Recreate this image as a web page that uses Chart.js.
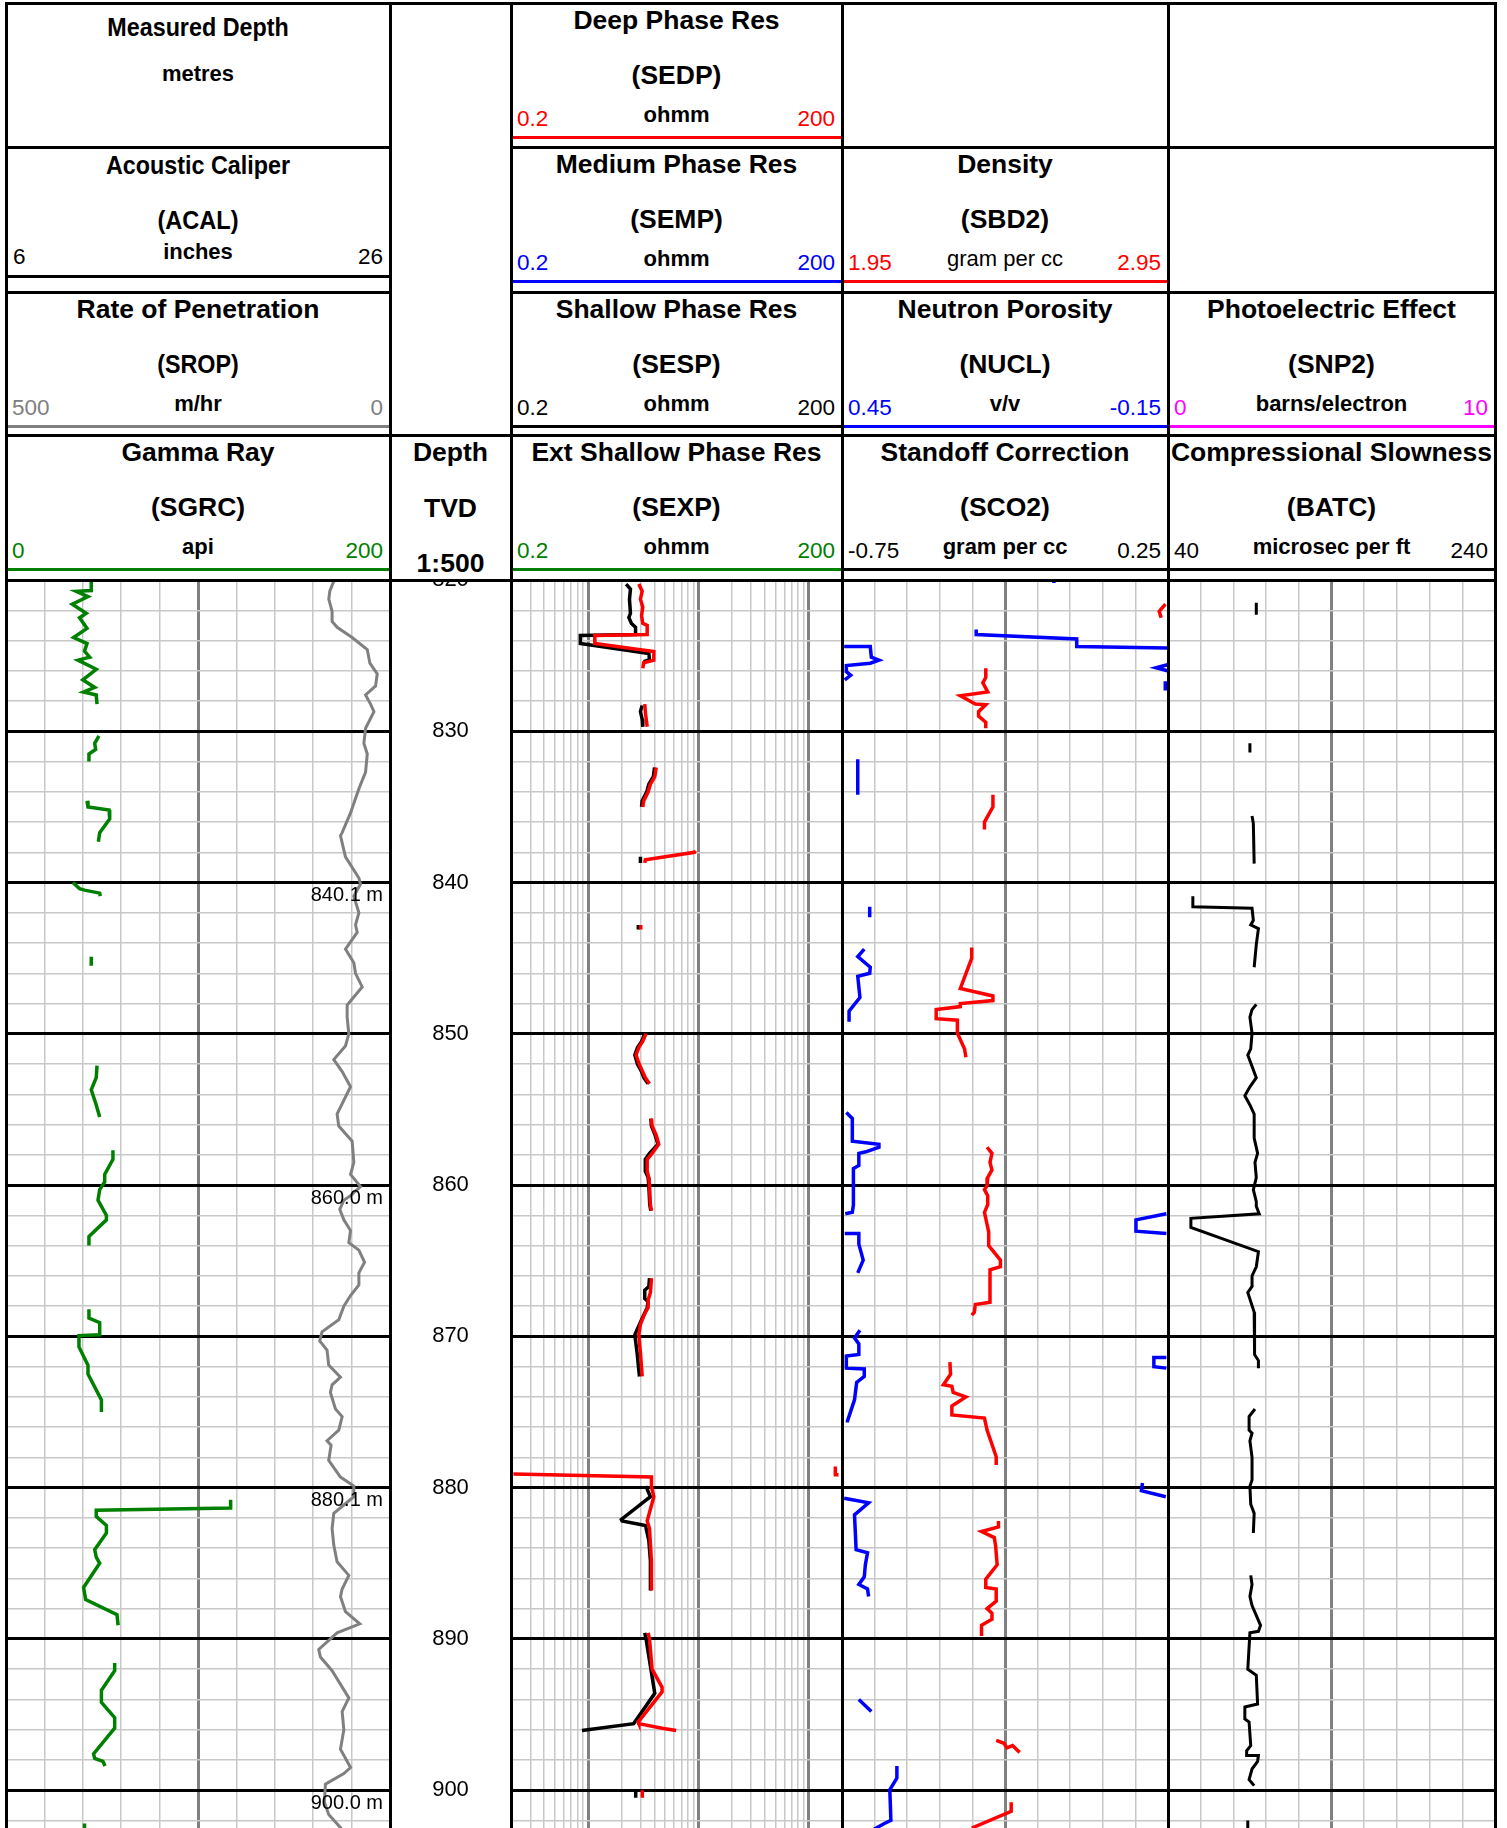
<!DOCTYPE html>
<html><head><meta charset="utf-8">
<script src="https://cdn.jsdelivr.net/npm/chart.js"></script>
<style>
html,body{margin:0;padding:0;background:#fff;}
#page{position:relative;width:1507px;height:1828px;overflow:hidden;font-family:"Liberation Sans",Arial,sans-serif;color:#000;background:#fff;}
.t{position:absolute;white-space:nowrap;line-height:1;font-weight:bold;}
.ln{position:absolute;}
canvas{position:absolute;}
</style></head><body><div id="page"></div>
<script>
// ---------------- DATA ----------------
const DEPTH_MIN = 820, DEPTH_MAX = 902.5;
const DEPTH_LABELS = [820, 830, 840, 850, 860, 870, 880, 890, 900];
const MD_LABEL_DEPTHS = [840, 860, 880, 900];
const MD_LABEL_TEXT = ['840.1 m', '860.0 m', '880.1 m', '900.0 m'];

// [depth, value]; null = gap
const SGRC = [[820.1,44.4],[820.7,44.4],[820.75,36.6],[821.1,42.7],[821.6,34.5],[822.2,41.8],[822.5,38.3],[823.2,42.2],[823.8,35.2],[824.2,42.2],[824.7,40.9],[825.1,43.6],[825.3,37.5],[825.9,47.0],[826.6,40.0],[827.1,46.2],[827.4,40.4],[827.6,47.0],[828.2,47.4],null,
 [830.3,48.4],[830.8,46.2],[831.2,46.7],[831.5,43.2],[832.0,43.2],null,
 [834.6,42.2],[835.0,42.7],[835.2,53.7],[835.8,54.0],[836.7,48.8],[837.3,48.1],null,
 [840.0,34.8],[840.4,38.3],[840.5,40.9],[840.7,48.8],[840.9,49.1],null,
 [844.9,44.4],[845.5,44.4],null,
 [852.1,47.4],[852.9,47.0],[853.7,44.4],[854.7,47.0],[855.5,48.8],null,
 [857.7,55.7],[858.3,55.7],[859.3,51.4],[859.8,51.4],[860.3,48.8],[861.0,47.9],[861.4,49.7],[862.0,52.3],[862.3,52.3],[863.4,43.2],[864.0,43.2],null,
 [868.2,43.2],[868.8,43.2],[869.1,48.8],[869.9,48.8],[869.95,38.0],[870.7,38.0],[871.9,42.7],[872.5,42.7],[874.2,49.7],[875.0,49.7],null,
 [880.8,117],[881.35,117],[881.5,47.0],[881.9,47.0],[882.5,52.3],[883.0,52.3],[884.1,46.2],[884.6,47.0],[885.0,48.8],[886.6,40.4],[887.4,41.5],[888.4,57.8],[889.1,58.4],null,
 [891.6,56.6],[892.1,56.6],[893.4,49.7],[894.2,49.7],[895.2,56.6],[895.9,56.6],[897.6,45.6],[897.9,46.2],[898.1,50.5],[898.4,51.6],null,
 [902.2,40.9],[902.6,40.9]];

const SROP = [[820.08,73.2],[820.74,78.4],[821.27,79.7],[822.07,75.4],[822.74,75.4],[823.13,68.8],[823.8,49.3],[824.6,29.6],[825.5,26.2],[826.2,16.6],[827.0,18.8],[827.6,31.8],[828.2,25.3],[828.7,20.9],[829.8,31.8],[830.8,34.0],[831.5,29.6],[832.7,31.8],[833.8,40.5],[835.4,51.4],[836.7,62.3],[836.9,64.5],[838.3,58.0],[839.7,40.5],[840.1,38.4],[840.9,47.1],[842.0,40.5],[842.8,44.9],[843.3,42.7],[844.4,58.0],[845.3,47.1],[846.0,44.9],[846.9,36.2],[848.1,55.8],[848.9,55.8],[850.0,53.6],[850.8,58.0],[851.7,73.2],[852.5,62.3],[853.5,51.4],[855.3,68.9],[856.1,66.7],[857.1,49.3],[858.5,47.1],[859.3,51.4],[860.1,38.4],[860.7,51.4],[861.0,60.1],[861.6,65.4],[862.3,60.1],[863.0,51.4],[863.8,53.6],[864.3,40.5],[865.1,33.1],[865.8,40.5],[866.6,40.5],[867.3,51.4],[868.0,60.1],[868.9,66.7],[869.7,88.5],[870.3,91.5],[870.9,82.0],[871.9,79.8],[872.7,64.5],[873.2,75.4],[873.7,77.6],[874.8,71.0],[875.3,62.3],[876.2,66.7],[876.9,82.0],[877.2,76.7],[878.2,79.8],[879.3,64.5],[879.9,47.1],[880.6,47.1],[881.7,73.2],[882.7,75.4],[883.8,73.2],[884.9,68.9],[885.8,53.6],[886.7,62.3],[887.2,64.5],[888.2,58.0],[889.0,39.3],[889.6,68.9],[890.7,92.8],[891.2,90.6],[892.1,75.4],[893.9,53.6],[894.8,62.3],[896.0,60.1],[897.3,64.5],[898.5,51.4],[898.9,60.1],[899.6,84.1],[900.8,85.4],[901.6,79.8],[902.6,62.3]];

const ACAL = [];

const SEDP = [[820.27,2.88],[820.74,3.09],[821.27,2.98],[821.8,3.13],[822.34,3.05],[822.87,3.13],[823.0,3.43],[823.6,3.43],[823.67,1.15],[824.2,1.15],[824.73,3.94],[825.3,3.94],[825.47,3.19],[825.84,3.13],null,
 [828.2,3.26],[828.8,3.31],[829.7,3.43],null,
 [832.4,4.14],[833.0,4.02],[833.5,3.67],[834.0,3.5],[834.6,3.19],[835.0,3.13],null,
 [838.7,3.26],[838.5,3.3],[838.0,9.2],[837.9,9.4],null,
 [842.8,3.0],[843.1,3.0],null,
 [850.0,3.35],[850.5,3.12],[850.9,2.88],[851.4,2.72],[852.0,2.9],[852.5,3.12],[852.9,3.3],[853.3,3.6],null,
 [855.6,3.75],[856.1,3.8],[856.7,4.14],[857.3,4.37],[857.9,3.8],[858.3,3.43],[859.1,3.43],[859.5,3.55],[860.05,3.6],[861.3,3.67],[861.7,3.75],null,
 [866.15,3.75],[867.1,3.67],[867.6,3.5],[868.1,3.5],[868.5,3.26],[869.2,2.98],[869.9,2.88],[871.1,2.98],[872.65,3.09],null,
 [878.6,174],[879.15,174],[879.15,186],null,
 [879.1,0.21],[879.3,3.75],[879.95,3.75],[880.6,3.94],[882.2,3.43],[882.7,3.6],[884.85,3.75],[886.8,3.75],null,
 [889.6,3.5],[890.0,3.6],[892.0,3.8],[893.2,4.68],[893.5,4.68],[895.5,2.84],[895.6,2.88],[895.9,4.68],[896.05,6.28],null,
 [900.0,3.1],[900.5,3.1]];

const SEMP = [];

const SESP = [[820.27,2.21],[820.6,2.42],[821.27,2.37],[822.2,2.42],[822.47,2.34],[822.87,2.47],[823.13,2.69],[823.6,2.69],[823.67,0.85],[824.2,0.85],[824.86,3.55],[825.26,3.6],[825.4,3.19],null,
 [828.3,3.09],[828.7,2.98],[829.2,3.09],[829.7,3.13],null,
 [832.4,4.0],[833.0,3.9],[833.5,3.55],[834.0,3.4],[834.6,3.09],[835.0,3.05],null,
 [838.3,2.98],[838.7,2.98],null,
 [842.8,2.85],[843.1,2.85],null,
 [850.0,3.26],[850.5,3.05],[850.9,2.8],[851.4,2.65],[852.0,2.8],[852.5,3.05],[852.9,3.2],[853.3,3.5],null,
 [855.6,3.7],[856.1,3.75],[856.7,4.05],[857.3,4.3],[857.9,3.6],[858.3,3.3],[859.1,3.3],[859.5,3.5],[860.05,3.55],[861.3,3.62],[861.7,3.7],null,
 [866.15,3.6],[866.7,3.55],[866.95,3.26],[867.5,3.26],[867.7,3.5],[868.1,3.43],[868.9,3.05],[869.9,2.65],[871.1,2.78],[872.65,2.92],null,
 [879.9,3.5],[880.1,3.43],[880.6,3.67],[882.1,2.0],[882.2,2.03],[882.5,3.31],[883.5,3.55],[884.85,3.67],[886.8,3.67],null,
 [889.6,3.26],[890.0,3.35],[893.6,4.02],[895.6,2.59],[896.05,0.88],null,
 [900.0,2.7],[900.5,2.7]];

const SEXP = [];

const SBD2 = [[821.6,2.942],[822.07,2.923],[822.5,2.929],null,
 [825.84,2.391],[826.45,2.391],[826.8,2.382],[827.4,2.397],[827.65,2.313],[828.2,2.359],[828.25,2.391],[828.7,2.369],[829.0,2.369],[829.4,2.391],[829.8,2.391],null,
 [834.2,2.413],[835.0,2.413],[836.0,2.387],[836.5,2.387],null,
 [844.3,2.348],[845.0,2.348],[847.0,2.313],[847.5,2.413],[847.8,2.413],[848.0,2.313],[848.2,2.313],[848.4,2.239],[849.0,2.239],[849.1,2.304],[849.96,2.304],[851.0,2.326],[851.55,2.33],null,
 [857.5,2.395],[857.9,2.41],[858.5,2.404],[859.0,2.41],[859.5,2.397],[860.05,2.395],[860.3,2.387],[860.7,2.397],[861.3,2.397],[861.8,2.387],[863.1,2.40],[864.0,2.40],[864.96,2.436],[865.4,2.436],[865.6,2.404],[867.75,2.404],[867.9,2.359],[868.4,2.356],[868.6,2.348],null,
 [871.7,2.281],[872.5,2.283],[873.2,2.261],[873.3,2.287],[873.7,2.291],[874.0,2.33],[874.6,2.287],[875.2,2.287],[875.4,2.387],[876.2,2.395],[877.96,2.423],[878.5,2.423],null,
 [882.2,2.43],[882.6,2.43],[882.9,2.378],[883.3,2.417],[883.8,2.421],[885.1,2.426],[886.05,2.391],[886.6,2.391],[886.7,2.423],[887.5,2.423],[888.0,2.395],[888.3,2.41],[888.7,2.41],[889.1,2.378],[889.8,2.378],null,
 [896.7,2.423],[896.9,2.447],[897.2,2.456],[897.05,2.473],[897.5,2.495],null,
 [900.8,2.469],[901.4,2.469],[902.5,2.348]];

const NUCL = [[820.0,0.06],[820.2,0.06],null,
 [823.27,0.203],[823.6,0.203],[823.9,0.018],[824.4,0.018],[824.5,-0.149],null,
 [824.4,0.446],[824.4,0.398],[825.1,0.396],[825.3,0.382],[825.5,0.398],[825.66,0.442],[826.06,0.442],[826.3,0.434],[826.6,0.445],null,
 [825.6,-0.149],[825.8,-0.128],[826.0,-0.149],null,
 [826.7,-0.145],[827.3,-0.145],null,
 [831.85,0.421],[834.2,0.421],null,
 [841.6,0.399],[842.3,0.399],null,
 [844.4,0.409],[844.9,0.421],[845.6,0.398],[846.0,0.399],[846.2,0.421],[847.6,0.417],[848.5,0.437],[849.2,0.437],null,
 [855.2,0.442],[855.6,0.431],[857.1,0.431],[857.3,0.382],[857.5,0.382],[857.8,0.406],[857.9,0.419],[858.7,0.419],[858.9,0.429],[861.3,0.429],[861.8,0.431],[861.9,0.444],null,
 [861.9,-0.147],[862.3,-0.091],[863.05,-0.091],[863.2,-0.147],null,
 [863.2,0.445],[863.2,0.419],[863.9,0.419],[864.96,0.411],[865.8,0.421],null,
 [869.6,0.417],[870.1,0.427],[870.5,0.419],[871.2,0.419],[871.3,0.442],[872.1,0.442],[872.15,0.409],[872.65,0.409],[873.05,0.423],[874.2,0.427],[875.6,0.44],[875.7,0.44],null,
 [871.4,-0.147],[871.4,-0.124],[872.0,-0.124],[872.1,-0.147],null,
 [879.7,-0.103],[880.2,-0.101],[880.6,-0.146],null,
 [880.7,0.446],[881.0,0.401],[881.8,0.427],[884.1,0.424],[884.3,0.403],[885.1,0.407],[885.9,0.409],[886.4,0.419],[886.7,0.403],[887.2,0.401],null,
 [894.0,0.419],[894.8,0.396],null,
 [898.4,0.349],[899.2,0.349],[899.97,0.362],[902.0,0.36],[902.2,0.372],[902.6,0.392]];

const SCO2 = [];
const SNP2 = [];

const BATC = [[821.5,94],[822.3,94],null,
 [830.8,90.1],[831.4,90.1],null,
 [835.6,91.4],[836.1,92.2],[838.75,92.7],null,
 [840.9,55.2],[841.6,55.2],[841.7,91.4],[842.5,92.2],[842.8,90.6],[843.05,95.3],[844.1,94.0],[845.6,92.7],null,
 [848.05,94.0],[848.4,91.4],[848.9,90.1],[849.96,91.4],[851.0,90.6],[851.4,88.8],[852.9,94.0],[853.5,90.1],[854.1,87.0],[854.7,90.1],[855.3,92.7],[856.9,92.7],[857.9,94.8],[858.5,93.2],[859.5,94.0],[860.3,92.2],[861.1,94.0],[861.4,94.0],[861.9,95.8],[862.2,54.0],[862.8,54.0],[864.4,95.3],[865.4,94.0],[866.0,91.4],[866.7,91.4],[867.1,88.8],[868.4,92.7],[870.0,93.2],[871.2,92.7],[871.6,95.3],[872.1,95.3],null,
 [874.8,93.2],[875.3,89.6],[876.2,89.6],[876.4,91.4],[876.9,90.1],[878.0,91.4],[879.5,91.4],[879.9,90.1],[881.1,90.6],[881.7,92.7],[883.0,92.2],null,
 [885.8,90.6],[886.4,91.4],[887.2,90.1],[887.8,91.4],[889.1,96.6],[889.5,95.3],[889.6,90.1],[892.0,88.8],[892.4,94.0],[894.3,94.8],[894.5,87.0],[895.3,87.0],[895.5,89.6],[897.05,90.6],[897.4,88.1],[897.7,88.1],[897.7,95.3],[898.1,94.8],[898.6,91.4],[899.3,89.6],[899.7,92.7],null,
 [902.0,88.8],[902.5,88.8]];

// grid tick values
const DEPTH_GRID = []; for (let v = 820; v <= 902; v += 2) DEPTH_GRID.push(v);
const RES_GRID = []; [0.1, 1, 10, 100].forEach(d => { for (let m = 1; m <= 9; m++) { const v = +(m * d).toPrecision(6); if (v >= 0.2 && v <= 200) RES_GRID.push(v); } });

// ---------------- LAYOUT ----------------
const page = document.getElementById('page');
const DATA_TOP = 580, PAGE_H = 1828;
const FONT = '"Liberation Sans", Arial, sans-serif';

function mkCanvas(x0, x1) {
  const c = document.createElement('canvas');
  c.width = x1 - x0; c.height = PAGE_H - DATA_TOP;
  c.style.left = x0 + 'px'; c.style.top = DATA_TOP + 'px';
  c.style.width = (x1 - x0) + 'px'; c.style.height = (PAGE_H - DATA_TOP) + 'px';
  page.appendChild(c); return c;
}
function pts(arr) { return arr.map(p => p ? {x: p[1], y: p[0]} : {x: null, y: null}); }
function ds(arr, color, axis, w) {
  return {data: pts(arr), showLine: true, borderColor: color, backgroundColor: color, borderWidth: w || 3.5,
    pointRadius: 0, pointHoverRadius: 0, xAxisID: axis, yAxisID: 'y', spanGaps: false, fill: false, tension: 0,
    borderJoinStyle: 'miter', borderCapStyle: 'butt'};
}
function depthScale(show) {
  return {type: 'linear', min: DEPTH_MIN, max: DEPTH_MAX, reverse: true, display: show,
    afterBuildTicks: s => { s.ticks = DEPTH_GRID.map(v => ({value: v})); },
    ticks: {display: false}, border: {display: false},
    grid: {drawTicks: false,
      color: c => (c.tick && c.tick.value % 10 === 0) ? '#000000' : '#c8c8c8',
      lineWidth: c => (c.tick && c.tick.value % 10 === 0) ? 3 : 1.5}};
}
function linGrid(min, max, n, reverse) {
  return {type: 'linear', min, max, reverse: !!reverse,
    afterBuildTicks: s => { const t = []; for (let i = 0; i <= n; i++) t.push({value: min + (max - min) * i / n}); s.ticks = t; },
    ticks: {display: false}, border: {display: false},
    grid: {drawTicks: false,
      color: c => c.index === n / 2 ? '#808080' : '#c8c8c8',
      lineWidth: c => c.index === n / 2 ? 3 : 1.5}};
}
function hidden(type, min, max, reverse) { return {type, min, max, reverse: !!reverse, display: false}; }
function isDecade(v) { const l = Math.log10(v); return Math.abs(l - Math.round(l)) < 1e-9; }
function baseOpts(scales) {
  return {responsive: false, maintainAspectRatio: false, animation: false, events: [],
    devicePixelRatio: 1, layout: {padding: 0},
    plugins: {legend: {display: false}, tooltip: {enabled: false}, title: {display: false}},
    scales};
}

// Track x extents
const TR = {gr: [6, 390], dep: [390, 511], res: [511, 842], den: [842, 1168], pe: [1168, 1495]};

// GR track
new Chart(mkCanvas(...TR.gr), {
  type: 'scatter',
  data: {datasets: [ds(SGRC, '#008000', 'x', 3.5), ds(SROP, '#808080', 'xSROP', 3), ds(ACAL, '#000000', 'xACAL', 3)]},
  options: baseOpts({
    x: linGrid(0, 200, 10),
    xSROP: hidden('linear', 0, 500, true),
    xACAL: hidden('linear', 6, 26),
    y: depthScale(true)}),
  plugins: [{id: 'mdlabels', afterDatasetsDraw(chart) {
    const ctx = chart.ctx, ys = chart.scales.y;
    ctx.save(); ctx.font = '20px ' + FONT; ctx.fillStyle = '#000'; ctx.textAlign = 'right'; ctx.textBaseline = 'middle';
    MD_LABEL_DEPTHS.forEach((d, i) => ctx.fillText(MD_LABEL_TEXT[i], chart.width - 7, ys.getPixelForValue(d) + 13));
    ctx.restore();
  }}]
});

// Depth track
new Chart(mkCanvas(...TR.dep), {
  type: 'scatter', data: {datasets: []},
  options: baseOpts({x: hidden('linear', 0, 1), y: depthScale(false)}),
  plugins: [{id: 'depthlabels', afterDraw(chart) {
    const ctx = chart.ctx, ys = chart.scales.y;
    ctx.save(); ctx.font = '22px ' + FONT; ctx.fillStyle = '#000'; ctx.textAlign = 'center'; ctx.textBaseline = 'middle';
    DEPTH_LABELS.forEach(d => ctx.fillText(String(d), chart.width / 2, ys.getPixelForValue(d)));
    ctx.restore();
  }}]
});

// Resistivity track
new Chart(mkCanvas(...TR.res), {
  type: 'scatter',
  data: {datasets: [ds(SEDP, '#ff0000', 'x'), ds(SESP, '#000000', 'x'), ds(SEMP, '#0000ff', 'x'), ds(SEXP, '#008000', 'x')]},
  options: baseOpts({
    x: {type: 'logarithmic', min: 0.2, max: 200,
      afterBuildTicks: s => { s.ticks = RES_GRID.map(v => ({value: v})); },
      ticks: {display: false}, border: {display: false},
      grid: {drawTicks: false,
        color: c => (c.tick && isDecade(c.tick.value)) ? '#808080' : '#c8c8c8',
        lineWidth: c => (c.tick && isDecade(c.tick.value)) ? 3 : 1.5}},
    y: depthScale(true)})
});

// Density track
new Chart(mkCanvas(...TR.den), {
  type: 'scatter',
  data: {datasets: [ds(SBD2, '#ff0000', 'x'), ds(NUCL, '#0000ff', 'xNUCL'), ds(SCO2, '#000000', 'xSCO2')]},
  options: baseOpts({
    x: linGrid(1.95, 2.95, 10),
    xNUCL: hidden('linear', -0.15, 0.45, true),
    xSCO2: hidden('linear', -0.75, 0.25),
    y: depthScale(true)})
});

// PE / Sonic track
new Chart(mkCanvas(...TR.pe), {
  type: 'scatter',
  data: {datasets: [ds(BATC, '#000000', 'xBATC', 3), ds(SNP2, '#ff00ff', 'x')]},
  options: baseOpts({
    x: linGrid(0, 10, 10),
    xBATC: hidden('linear', 40, 240),
    y: depthScale(true)})
});

// ---------------- HEADER / BORDERS ----------------
function line(x0, y0, x1, y1, color) {
  const d = document.createElement('div'); d.className = 'ln';
  d.style.left = x0 + 'px'; d.style.top = y0 + 'px';
  d.style.width = (x1 - x0) + 'px'; d.style.height = (y1 - y0) + 'px';
  d.style.background = color || '#000'; page.appendChild(d);
}
function hline(x0, x1, yc, color) { line(x0, yc - 1.5, x1, yc + 1.5, color); }
function vline(xc, y0, y1, color) { line(xc - 1.5, y0, xc + 1.5, y1, color); }
function txt(s, x, y, o) {
  o = o || {};
  const d = document.createElement('div'); d.className = 't'; d.textContent = s;
  d.style.left = x + 'px'; d.style.top = y + 'px';
  d.style.fontSize = (o.size || 26.5) + 'px';
  if (o.bold === false) d.style.fontWeight = 'normal';
  if (o.color) d.style.color = o.color;
  let tr = 'translate(-50%,-50%)';
  if (o.align === 'left') tr = 'translate(0,-50%)';
  if (o.align === 'right') tr = 'translate(-100%,-50%)';
  if (o.sx) tr += ' scaleX(' + o.sx + ')';
  d.style.transform = tr;
  page.appendChild(d);
}
function curveHeader(tr, T, title, mnem, unit, lo, hi, color, opts) {
  opts = opts || {};
  const x0 = tr[0], x1 = tr[1], cx = (x0 + x1) / 2;
  txt(title, cx, T + 17, {sx: opts.tsx});
  txt(mnem, cx, T + 72, {sx: opts.msx});
  txt(unit, cx, T + 112, {size: 22, bold: opts.unitBold !== false});
  const rc = opts.rangeColor || color;
  txt(lo, x0 + 6, T + 116, {size: 22.5, bold: false, color: rc, align: 'left'});
  txt(hi, x1 - 7, T + 116, {size: 22.5, bold: false, color: rc, align: 'right'});
  hline(x0 + 1, x1 - 1, T + 134.5, color);
}

// GR column headers
const gcx = (TR.gr[0] + TR.gr[1]) / 2;
txt('Measured Depth', gcx, 27, {sx: 0.88});
txt('metres', gcx, 74, {size: 22});
txt('Acoustic Caliper', gcx, 165, {sx: 0.88});
txt('(ACAL)', gcx, 220, {sx: 0.89});
txt('inches', gcx, 252, {size: 22});
txt('6', TR.gr[0] + 7, 257, {size: 22.5, bold: false, align: 'left'});
txt('26', TR.gr[1] - 7, 257, {size: 22.5, bold: false, align: 'right'});
hline(TR.gr[0], TR.gr[1], 276, '#000');
curveHeader(TR.gr, 292, 'Rate of Penetration', '(SROP)', 'm/hr', '500', '0', '#808080', {msx: 0.88});
curveHeader(TR.gr, 435, 'Gamma Ray', '(SGRC)', 'api', '0', '200', '#008000');

// Depth column
const dcx = (TR.dep[0] + TR.dep[1]) / 2;
txt('Depth', dcx, 452); txt('TVD', dcx, 508); txt('1:500', dcx, 563);

// Resistivity
curveHeader(TR.res, 3, 'Deep Phase Res', '(SEDP)', 'ohmm', '0.2', '200', '#ff0000');
curveHeader(TR.res, 147, 'Medium Phase Res', '(SEMP)', 'ohmm', '0.2', '200', '#0000ff');
curveHeader(TR.res, 292, 'Shallow Phase Res', '(SESP)', 'ohmm', '0.2', '200', '#000000');
curveHeader(TR.res, 435, 'Ext Shallow Phase Res', '(SEXP)', 'ohmm', '0.2', '200', '#008000');

// Density
curveHeader(TR.den, 147, 'Density', '(SBD2)', 'gram per cc', '1.95', '2.95', '#ff0000', {unitBold: false});
curveHeader(TR.den, 292, 'Neutron Porosity', '(NUCL)', 'v/v', '0.45', '-0.15', '#0000ff');
curveHeader(TR.den, 435, 'Standoff Correction', '(SCO2)', 'gram per cc', '-0.75', '0.25', '#000000');

// PE
curveHeader(TR.pe, 292, 'Photoelectric Effect', '(SNP2)', 'barns/electron', '0', '10', '#ff00ff');
curveHeader(TR.pe, 435, 'Compressional Slowness', '(BATC)', 'microsec per ft', '40', '240', '#000000');

// Borders
hline(6, 1495, 3);
hline(6, 390, 147); hline(511, 1495, 147);
hline(6, 390, 292); hline(511, 1495, 292);
hline(6, 1495, 435);
hline(6, 1495, 580);
[6, 390, 511, 842, 1168, 1495].forEach(x => vline(x, 1.5, PAGE_H));
</script>
</body></html>
